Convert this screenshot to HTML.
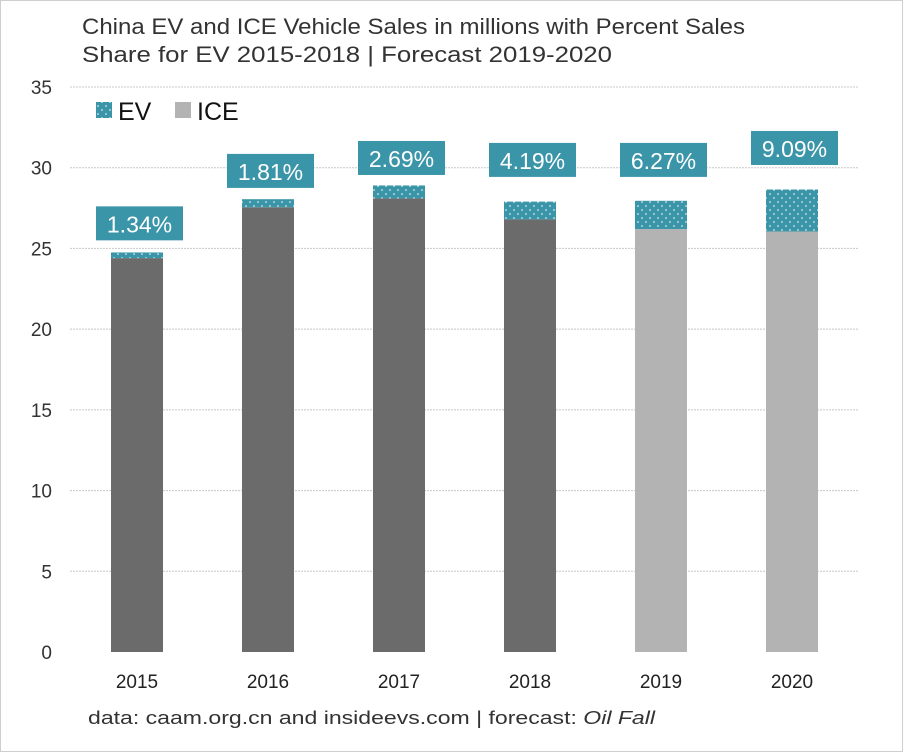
<!DOCTYPE html>
<html><head><meta charset="utf-8"><style>
html,body{margin:0;padding:0;background:#fff;}
svg{display:block;font-family:"Liberation Sans",sans-serif;}
</style></head><body>
<svg id="chart" width="903" height="752">
<defs>
<pattern id="dots" width="8" height="8" patternUnits="userSpaceOnUse">
<rect width="8" height="8" fill="#3a95a8"/><circle cx="2" cy="2" r="0.8" fill="#fff"/><circle cx="6" cy="6" r="0.8" fill="#fff"/>
</pattern>
</defs>
<rect x="0.5" y="0.5" width="902" height="751" fill="#fff" stroke="#cfcfcf"/>
<text x="82" y="34" font-size="22" fill="#333" textLength="663" lengthAdjust="spacingAndGlyphs">China EV and ICE Vehicle Sales in millions with Percent Sales</text>
<text x="82" y="62" font-size="22" fill="#333" textLength="530" lengthAdjust="spacingAndGlyphs">Share for EV 2015-2018 | Forecast 2019-2020</text>
<g>
<rect x="96" y="102" width="16" height="16" fill="url(#dots)"/>
<text x="118" y="120" font-size="25" fill="#111">EV</text>
<rect x="175" y="102" width="16" height="16" fill="#b3b3b3"/>
<text x="197" y="120" font-size="25" fill="#111">ICE</text>
</g>
<g id="grid"></g><g id="bars"></g>
<text x="88" y="724" font-size="18" fill="#333" textLength="567" lengthAdjust="spacingAndGlyphs">data: caam.org.cn and insideevs.com | forecast: <tspan font-style="italic">Oil Fall</tspan></text>
</svg>
<script>
const years=["2015","2016","2017","2018","2019","2020"];
const iceValues=[24.4,27.55,28.1,26.8,26.2,26.05];
const evValues=[0.35,0.5,0.8,1.1,1.75,2.6];
const shareLabels=["1.34%","1.81%","2.69%","4.19%","6.27%","9.09%"];
const labelAnchors=[25.5,28.75,29.55,29.43,29.43,30.17];
const forecast=[false,false,false,false,true,true];
const yTicks=[0,5,10,15,20,25,30,35];
const NS="http://www.w3.org/2000/svg";
const y0=652,y1=87,yMax=35;
const y=v=>y0-(v/yMax)*(y0-y1);
const x=i=>137+i*131;
function el(t,a,p){const e=document.createElementNS(NS,t);for(const k in a)e.setAttribute(k,a[k]);p.appendChild(e);return e;}
const g=document.getElementById('grid'),b=document.getElementById('bars');
yTicks.forEach(t=>{
 if(t>0){const l=el('line',{x1:70,x2:858,y1:y(t),y2:y(t),stroke:'#c8c8c8','stroke-dasharray':'2,1'},g);
 
 }
 const tx=el('text',{x:52,y:y(t)+7,'text-anchor':'end','font-size':19,fill:'#333'},g);tx.textContent=t;
 
 
});
years.forEach((yr,i)=>{
 const cx=x(i),w=52;
 const ice=el('rect',{x:cx-w/2,y:y(iceValues[i]),width:w,height:y0-y(iceValues[i]),fill:forecast[i]?'#b3b3b3':'#6b6b6b'},b);
 
 
 const tot=iceValues[i]+evValues[i];
 const ev=el('rect',{x:cx-w/2,y:y(tot),width:w,height:y(iceValues[i])-y(tot),fill:'url(#dots)'},b);
 
 
 const by=y(labelAnchors[i])-34;
 const box=el('rect',{x:cx-41,y:by,width:87,height:34,fill:'#3a95a8'},b);
 
 
 const lt=el('text',{x:cx+2.5,y:by+26,'text-anchor':'middle','font-size':23,fill:'#fff'},b);lt.textContent=shareLabels[i];
 
 
 const xt=el('text',{x:cx,y:688,'text-anchor':'middle','font-size':19,fill:'#222'},b);xt.textContent=yr;
 
 
});
</script>
</body></html>
